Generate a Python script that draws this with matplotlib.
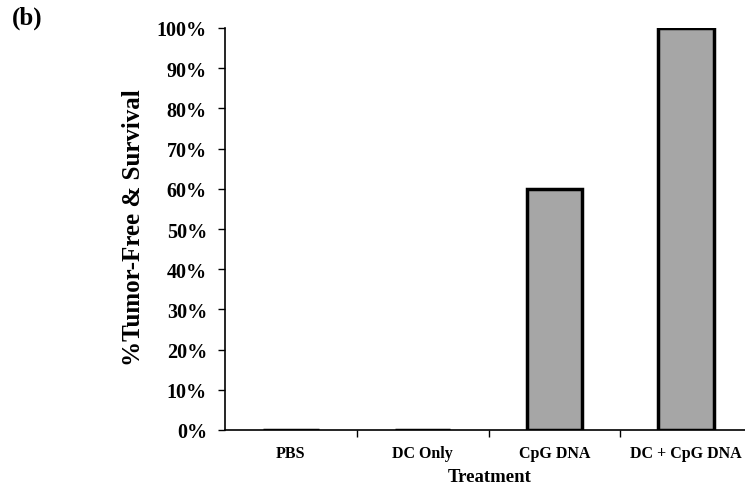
import matplotlib
matplotlib.use("Agg")
import matplotlib.pyplot as plt
from matplotlib.ticker import FixedLocator, FuncFormatter

categories = ["PBS", "DC Only", "CpG DNA", "DC + CpG DNA"]
values = [0, 0, 60, 100]
yticks = [0, 10, 20, 30, 40, 50, 60, 70, 80, 90, 100]

plt.rcParams['font.family'] = ['Liberation Serif', 'DejaVu Serif']
plt.rcParams['font.weight'] = 'bold'

W, H = 745, 489
fig = plt.figure(figsize=(W / 100, H / 100), dpi=100)
ax = fig.add_axes([225 / W, (H - 431) / H, 527 / W, (431 - 29) / H])

x = list(range(len(categories)))
ax.bar(x, values, width=0.42, color='#a6a6a6', edgecolor='black', linewidth=2.5, zorder=3)

ax.set_xlim(-0.5, len(categories) - 0.5)
ax.set_ylim(0, 100)
ax.set_yticks(yticks)
ax.yaxis.set_major_formatter(FuncFormatter(lambda v, p: f"{int(v)}%"))
ax.set_xticks(x)
ax.set_xticklabels(categories, fontsize=11.5, fontweight='bold')
ax.xaxis.set_minor_locator(FixedLocator([i + 0.5 for i in range(len(categories) - 1)]))
ax.tick_params(axis='x', which='major', length=0, pad=11)
ax.tick_params(axis='x', which='minor', length=5, width=1, direction='out')
ax.tick_params(axis='y', length=5, width=1, direction='out', pad=8, labelsize=14.5)
for lab in ax.get_yticklabels():
    lab.set_fontweight('bold')

ax.spines['top'].set_visible(False)
ax.spines['right'].set_visible(False)
ax.spines['left'].set_linewidth(1.2)
ax.spines['bottom'].set_linewidth(1.2)

fig.text(490 / W, (H - 478) / H, "Treatment", ha='center', va='center', fontsize=13.5, fontweight='bold')
fig.text(133 / W, (H - 228) / H, "%Tumor-Free & Survival", ha='center', va='center',
         rotation=90, fontsize=18, fontweight='bold')
fig.text(12 / W, (H - 18) / H, "(b)", ha='left', va='center', fontsize=18, fontweight='bold')

fig.savefig("out.png", dpi=100)
